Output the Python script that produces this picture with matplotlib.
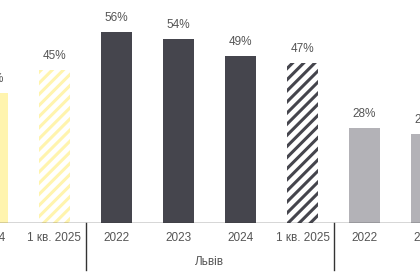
import numpy as np
import matplotlib
matplotlib.use('Agg')
import matplotlib.pyplot as plt

# Data (share, %), chart is cropped: only part of the first and third groups is visible
periods = ['2022', '2023', '2024', '1 кв. 2025']
group_names = ['', 'Львів', '']
city1_vals = [np.nan, np.nan, 38, 45]
lviv_vals = [56, 54, 49, 47]
city3_vals = [28, 26, np.nan, np.nan]

colors = ['#FFF4AE', '#45454D', '#B3B2B7']
text_color = '#555555'

plt.rcParams['font.family'] = ['Liberation Sans', 'DejaVu Sans']
plt.rcParams['hatch.linewidth'] = 2.2

fig = plt.figure(figsize=(4.2, 2.8), dpi=100)
ax = fig.add_axes([0, 1 - 223 / 280, 1, 223 / 280])

groups = [city1_vals, lviv_vals, city3_vals]
n = len(periods)
for g, vals in enumerate(groups):
    for i, v in enumerate(vals):
        if np.isnan(v):
            continue
        x = g * n + i
        last = i == n - 1
        if last:
            ax.bar(x, v, width=0.5, color='white', edgecolor=colors[g],
                   hatch='///', linewidth=0)
        else:
            ax.bar(x, v, width=0.5, color=colors[g], linewidth=0)
        ax.annotate(f'{v:.0f}%', (x, v), xytext=(0, 14), textcoords='offset pixels',
                    ha='center', va='center', fontsize=8.5, color=text_color,
                    annotation_clip=False)
    # period labels under each bar
    for i, p in enumerate(periods):
        ax.annotate(p, (g * n + i, 0), xycoords=('data', 'axes fraction'),
                    xytext=(0, -15), textcoords='offset pixels',
                    ha='center', va='center', fontsize=8.5, color=text_color,
                    annotation_clip=False)
    # group name
    if group_names[g]:
        ax.annotate(group_names[g], (g * n + (n - 1) / 2, 0), xycoords=('data', 'axes fraction'),
                    xytext=(0, -39), textcoords='offset pixels',
                    ha='center', va='center', fontsize=8.5, color=text_color,
                    annotation_clip=False)
    # separator between groups
    if g > 0:
        ax.plot([g * n - 0.5] * 2, [0, -47 / 223], color='#333333', lw=1,
                transform=ax.get_xaxis_transform(), clip_on=False)

ax.axhline(0, color='#333333', lw=1)
ax.set_xlim(2.121, 8.895)
ax.set_ylim(0, 223 / 3.41)
ax.axis('off')

fig.savefig('out.png', dpi=100)
